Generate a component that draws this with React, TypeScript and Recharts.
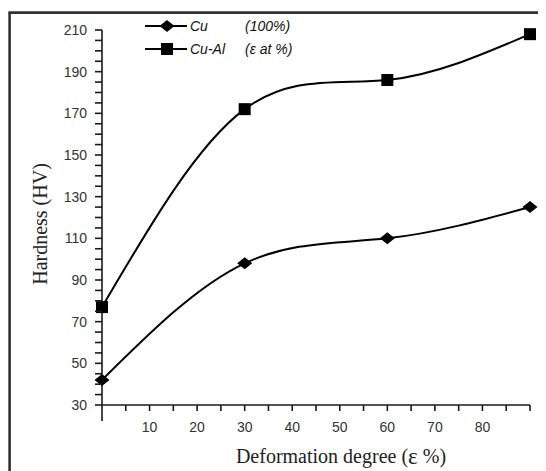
import { LineChart, Line, XAxis, YAxis } from 'recharts';

// Deformation degree (%) vs Vickers hardness
const deformation = [0, 30, 60, 90];
const cuHardness = [42, 98, 110, 125];
const cuAlHardness = [77, 172, 186, 208];

const xTicks = [0, 5, 10, 15, 20, 25, 30, 35, 40, 45, 50, 55, 60, 65, 70, 75, 80, 85, 90];
const xLabels = [10, 20, 30, 40, 50, 60, 70, 80];
const yTicks = Array.from({ length: 37 }, (_, i) => 30 + i * 5);
const yLabels = [30, 50, 70, 90, 110, 130, 150, 170, 190, 210];

const data = deformation.map((d, i) => ({ d, cu: cuHardness[i], cuAl: cuAlHardness[i] }));

const W = 538;
const H = 463;
const INK = '#1a1a1a';
const SANS = '"Liberation Sans", Arial, sans-serif';
const SERIF = '"Liberation Serif", "Times New Roman", serif';

const XTick = (props: any) => {
  const { x, y, payload } = props;
  const v = payload.value;
  return (
    <g>
      <line x1={x} y1={y} x2={x} y2={y + (v === 0 ? 16 : 6)} stroke={INK} strokeWidth={1.6} />
      {xLabels.includes(v) && (
        <text x={x} y={y + 22} textAnchor="middle" dominantBaseline="central" fontFamily={SANS} fontSize={14} fill="#333">
          {v}
        </text>
      )}
    </g>
  );
};

const YTick = (props: any) => {
  const { x, y, payload } = props;
  const v = payload.value;
  return (
    <g>
      <line x1={x - 7} y1={y} x2={x} y2={y} stroke={INK} strokeWidth={1.6} />
      {yLabels.includes(v) && (
        <text x={x - 15} y={y} textAnchor="end" dominantBaseline="central" fontFamily={SANS} fontSize={14} fill="#333">
          {v}
        </text>
      )}
    </g>
  );
};

const Diamond = (props: any) => {
  const { cx, cy } = props;
  if (cx == null || cy == null) return null;
  return <path d={`M${cx - 7.5},${cy} L${cx},${cy - 6} L${cx + 7.5},${cy} L${cx},${cy + 6} Z`} fill="#000" />;
};

const Square = (props: any) => {
  const { cx, cy } = props;
  if (cx == null || cy == null) return null;
  return <rect x={cx - 6} y={cy - 6} width={12} height={12} fill="#000" />;
};

export default function App() {
  return (
    <div style={{ position: 'relative', width: W, height: H, background: '#fff' }}>
      <LineChart width={W} height={H} data={data} margin={{ top: 22, right: 16, left: 0, bottom: 0 }}>
        <XAxis
          dataKey="d"
          type="number"
          domain={[0, 90]}
          ticks={xTicks}
          interval={0}
          height={66}
          tickSize={0}
          tickMargin={0}
          tick={<XTick />}
          axisLine={{ stroke: INK, strokeWidth: 1.6 }}
        />
        <YAxis
          type="number"
          domain={[30, 210]}
          ticks={yTicks}
          interval={0}
          width={94}
          tickSize={0}
          tickMargin={0}
          tick={<YTick />}
          axisLine={{ stroke: INK, strokeWidth: 1.6 }}
        />
        <Line type="natural" dataKey="cu" stroke="#000" strokeWidth={2} dot={<Diamond />} activeDot={false} isAnimationActive={false} />
        <Line type="natural" dataKey="cuAl" stroke="#000" strokeWidth={2} dot={<Square />} activeDot={false} isAnimationActive={false} />
      </LineChart>
      <svg width={W} height={H} style={{ position: 'absolute', left: 0, top: 0, pointerEvents: 'none' }}>
        {/* frame, cut off on the right and bottom */}
        <line x1={1.6} y1={4.6} x2={1.6} y2={H} stroke="#333" strokeWidth={2.6} />
        <line x1={0.4} y1={4.6} x2={W} y2={4.6} stroke="#333" strokeWidth={2.6} />
        {/* legend */}
        <g fontFamily={SANS} fontSize={14} fontStyle="italic" fill="#111">
          <line x1={137} y1={18} x2={179} y2={18} stroke="#000" strokeWidth={2} />
          <Diamond cx={159} cy={18} />
          <text x={182} y={18} dominantBaseline="central">Cu</text>
          <text x={237} y={18} dominantBaseline="central">(100%)</text>
          <line x1={137} y1={41} x2={179} y2={41} stroke="#000" strokeWidth={2} />
          <Square cx={159} cy={41} />
          <text x={182} y={41} dominantBaseline="central">Cu-Al</text>
          <text x={237} y={41} dominantBaseline="central">(ε at %)</text>
        </g>
        <text
          transform="translate(32,216) rotate(-90)"
          textAnchor="middle"
          dominantBaseline="central"
          fontFamily={SERIF}
          fontSize={20}
          fill="#222"
        >
          Hardness (HV)
        </text>
        <text x={333} y={448} textAnchor="middle" dominantBaseline="central" fontFamily={SERIF} fontSize={20} fill="#222">
          Deformation degree (<tspan fontSize={23}>ε</tspan> %)
        </text>
      </svg>
    </div>
  );
}
